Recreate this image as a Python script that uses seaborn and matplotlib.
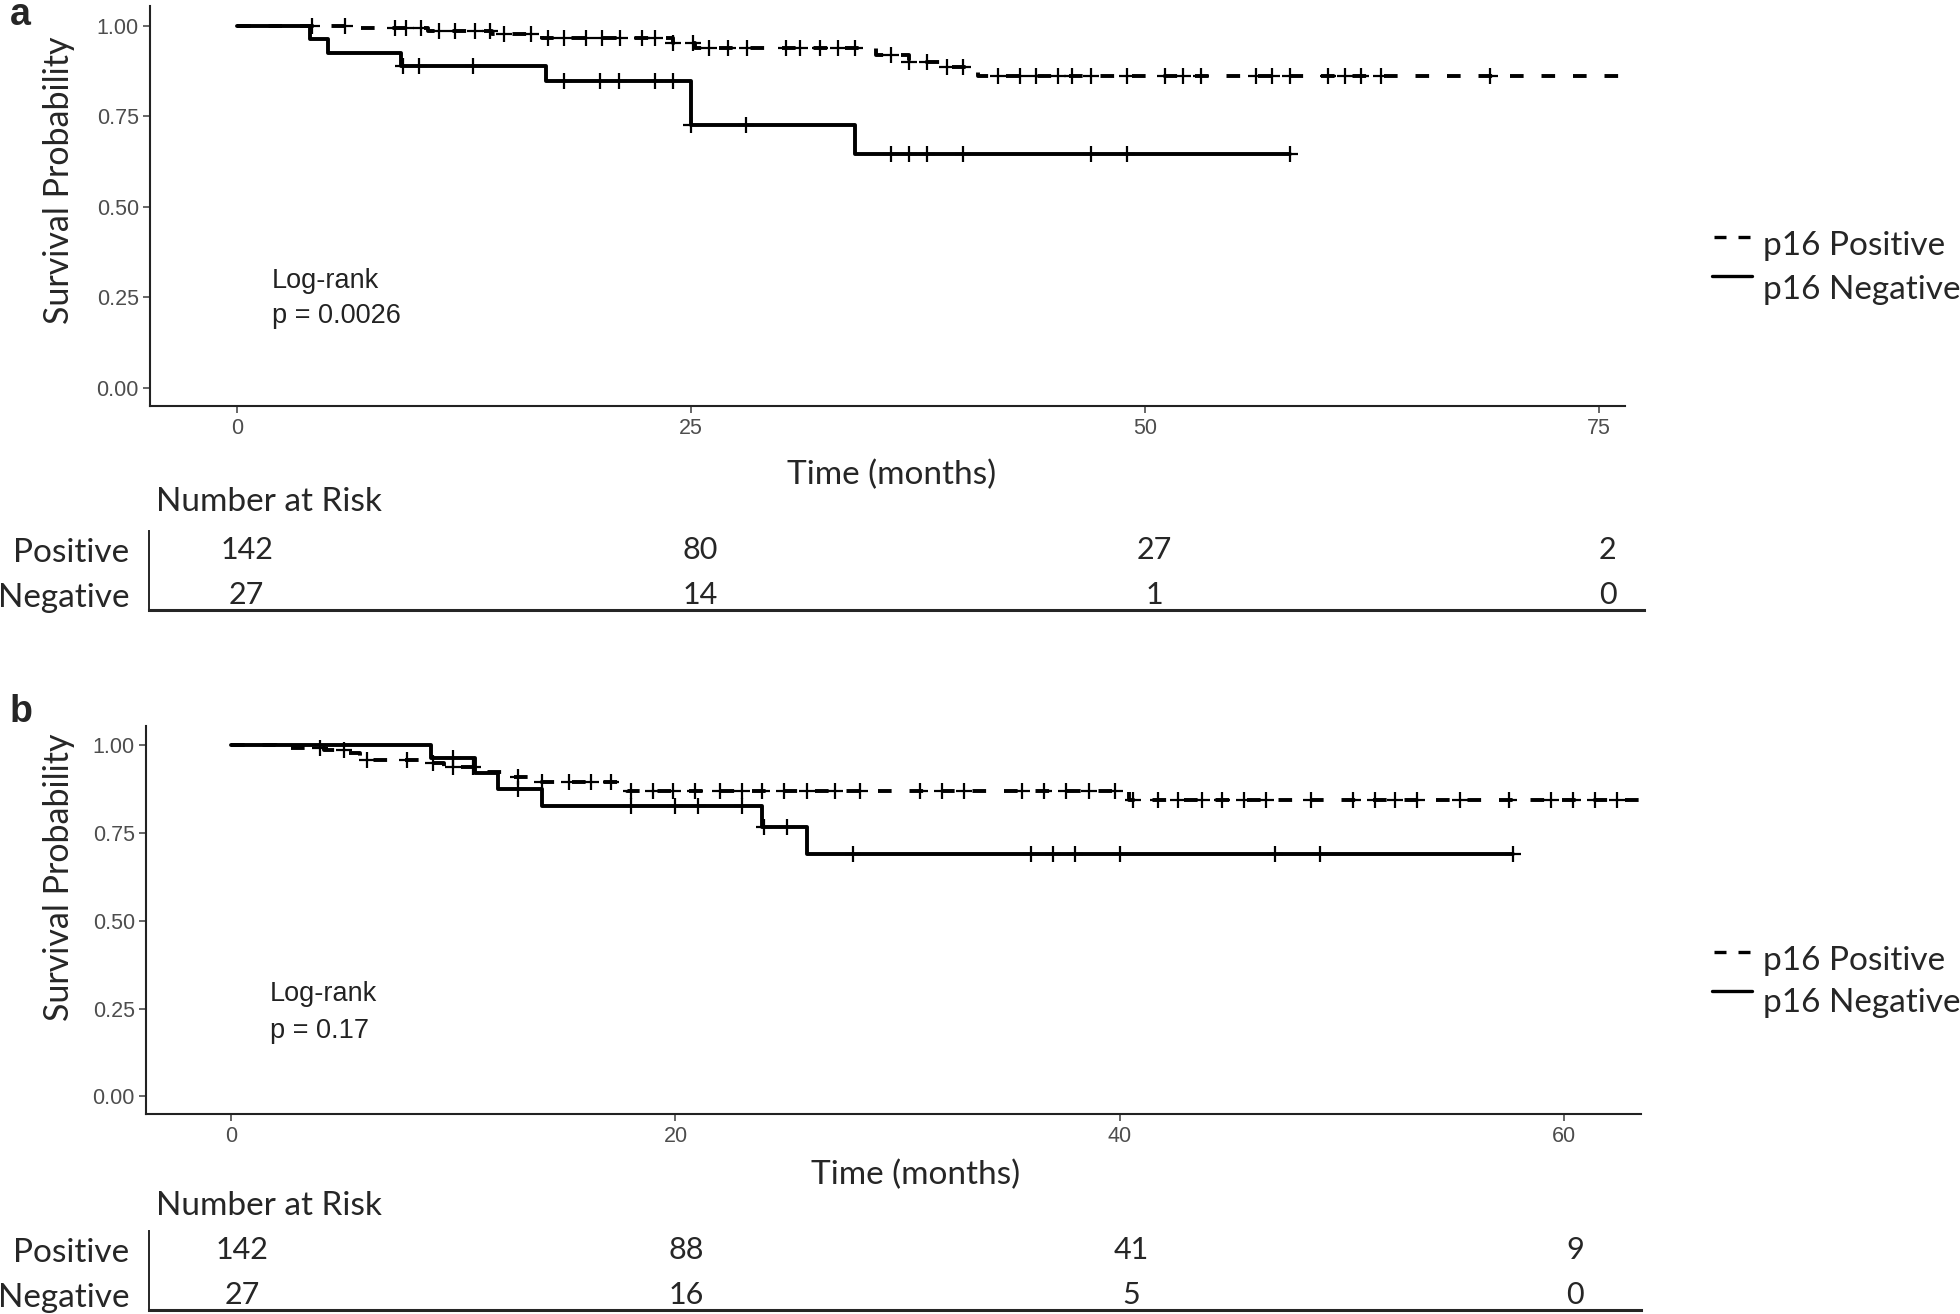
import numpy as np
import pandas as pd
import matplotlib
matplotlib.use("Agg")
import matplotlib.pyplot as plt
from matplotlib.lines import Line2D
import seaborn as sns

# ---- panel a: step curves ----
a_neg_times = [0, 4, 5, 9, 17, 25, 34]
a_neg_surv = [1.0, 0.963, 0.926, 0.889, 0.848, 0.727, 0.646]
a_neg_end = 58
a_neg_censor = [9.1, 10, 13, 18, 20, 21, 23, 24, 25, 28, 36, 37, 38, 40, 47, 49, 58]

a_pos_times = [0, 6.2, 10.5, 14.0, 16.8, 24.0, 25.2, 35.2, 37.0, 38.8, 40.8]
a_pos_surv = [1.0, 0.993, 0.986, 0.977, 0.967, 0.952, 0.938, 0.921, 0.900, 0.886, 0.861]
a_pos_end = 77
a_pos_censor = [4.1, 5.9, 8.7, 9.3, 10.1, 11.1, 12.0, 13.1, 13.9, 14.7, 16.2, 17.1,
                18.0, 19.2, 20.1, 21.1, 22.3, 23.0, 24.0, 25.1, 26.0, 27.0, 28.1,
                30.2, 31.0, 32.1, 33.1, 34.0, 36.0, 37.0, 38.0, 39.1, 40.0, 41.9,
                43.1, 44.0, 45.2, 46.0, 47.0, 49.0, 51.1, 52.1, 53.1, 56.1, 57.0,
                58.0, 60.1, 61.0, 61.9, 63.0, 69.0]

a_risk_times = [0, 25, 50, 75]
a_risk_pos = [142, 80, 27, 2]
a_risk_neg = [27, 14, 1, 0]
a_ticks = [0, 25, 50, 75]
a_pvalue = "p = 0.0026"

# ---- panel b ----
b_neg_times = [0, 9, 11, 12, 14, 23.9, 25.9]
b_neg_surv = [1.0, 0.963, 0.921, 0.875, 0.827, 0.766, 0.690]
b_neg_end = 57.7
b_neg_censor = [10.0, 12.9, 18.0, 20.0, 21.0, 23.0, 24.0, 25.0, 28.0, 36.0, 37.0,
                38.0, 40.0, 47.0, 49.0, 57.7]

b_pos_times = [0, 2.0, 4.2, 5.2, 5.8, 8.6, 9.6, 11.0, 12.5, 13.9, 17.8, 40.4]
b_pos_surv = [1.0, 0.993, 0.986, 0.978, 0.958, 0.950, 0.938, 0.925, 0.910, 0.896, 0.869, 0.845]
b_pos_end = 64
b_pos_censor = [4.0, 5.1, 6.1, 7.9, 9.1, 10.0, 10.9, 12.9, 14.0, 15.2, 16.2, 17.1,
                18.0, 19.0, 19.9, 20.9, 22.0, 23.0, 23.9, 24.9, 25.9, 27.2, 28.3,
                31.0, 32.0, 33.0, 35.6, 36.6, 37.6, 38.6, 39.8, 40.6, 41.7, 42.6,
                43.7, 44.6, 45.6, 46.6, 48.6, 50.5, 51.5, 52.4, 53.4, 55.3, 57.5,
                59.4, 60.4, 61.4, 62.4]

b_risk_times = [0, 20, 40, 60]
b_risk_pos = [142, 88, 41, 9]
b_risk_neg = [27, 16, 5, 0]
b_ticks = [0, 20, 40, 60]
b_pvalue = "p = 0.17"

POS = "p16 Positive"
NEG = "p16 Negative"

W, H = 1960, 1314
sns.set_style("ticks")
plt.rcParams["font.family"] = ["Liberation Sans", "DejaVu Sans"]
CAL = ["Lato", "DejaVu Sans"]
TICK_GREY = "#4D4D4D"

fig = plt.figure(figsize=(W / 100, H / 100), dpi=100)


def px_axes(left, top, right, bottom):
    return fig.add_axes([left / W, 1 - bottom / H, (right - left) / W, (bottom - top) / H])


def km_frame(times, surv, end, label):
    return pd.DataFrame({"time": list(times) + [end],
                         "surv": list(surv) + [surv[-1]],
                         "group": label})


def censor_frame(times, surv, censor, label):
    idx = np.searchsorted(times, censor, side="right") - 1
    return pd.DataFrame({"time": censor, "surv": np.asarray(surv)[idx], "group": label})


def draw_curves(ax, pos, neg, xlim, ticks, pvalue, logrank_xy):
    curves = pd.concat([km_frame(*pos[:3], POS), km_frame(*neg[:3], NEG)], ignore_index=True)
    cens = pd.concat([censor_frame(pos[0], pos[1], pos[3], POS),
                      censor_frame(neg[0], neg[1], neg[3], NEG)], ignore_index=True)
    sns.lineplot(data=curves, x="time", y="surv", hue="group", style="group",
                 palette={POS: "black", NEG: "black"},
                 dashes={POS: (3.5, 4.6), NEG: ""},
                 drawstyle="steps-post", estimator=None, sort=False,
                 linewidth=2.8, legend=False, ax=ax)
    sns.scatterplot(data=cens, x="time", y="surv", marker="+", color="black",
                    s=120, linewidth=1.6, legend=False, ax=ax, zorder=3)
    ax.set_xlim(*xlim)
    ax.set_ylim(-0.05, 1.055)
    ax.set_xticks(ticks)
    ax.set_yticks([0, 0.25, 0.5, 0.75, 1.0])
    ax.set_yticklabels(["0.00", "0.25", "0.50", "0.75", "1.00"])
    ax.tick_params(axis="both", labelsize=15.5, colors=TICK_GREY, length=5, width=1.2,
                   pad=4)
    ax.tick_params(axis="y", pad=3)
    for lab in ax.get_xticklabels() + ax.get_yticklabels():
        lab.set_color(TICK_GREY)
    sns.despine(ax=ax)
    for sp in ("left", "bottom"):
        ax.spines[sp].set_linewidth(1.5)
        ax.spines[sp].set_color("#222222")
    ax.set_xlabel("")
    ax.set_ylabel("")
    ax.text(logrank_xy[0], logrank_xy[1], "Log-rank", fontsize=19.5, color="#222222",
            va="center", ha="left")
    ax.text(logrank_xy[0], logrank_xy[2], pvalue, fontsize=19.5, color="#222222",
            va="center", ha="left")


def draw_table(ax, xlim, times, pos_counts, neg_counts):
    ax.set_xlim(*xlim)
    ax.set_ylim(0, 1)
    for t, p, n in zip(times, pos_counts, neg_counts):
        ax.text(t + 0.5, 0.76, str(p), family=CAL, fontsize=22, ha="center", va="center")
        ax.text(t + 0.5, 0.19, str(n), family=CAL, fontsize=22, ha="center", va="center")
    ax.set_xticks([])
    ax.set_yticks([0.76, 0.19])
    ax.set_yticklabels(["Positive", "Negative"], family=CAL, fontsize=24)
    ax.tick_params(axis="y", length=0, pad=14)
    sns.despine(ax=ax)
    ax.spines["left"].set_linewidth(1.4)
    ax.spines["bottom"].set_linewidth(2.2)
    ax.patch.set_alpha(0)


def draw_legend(y_dash, y_solid, y_pos_text, y_neg_text):
    fig.add_artist(Line2D([1714 / W, 1752 / W], [1 - y_dash / H] * 2, color="black",
                          lw=2.4, ls=(0, (3.6, 3.6)), transform=fig.transFigure))
    fig.add_artist(Line2D([1712 / W, 1752 / W], [1 - y_solid / H] * 2, color="black",
                          lw=2.4, transform=fig.transFigure))
    fig.text(1763 / W, 1 - y_pos_text / H, POS, family=CAL, fontsize=24, va="center")
    fig.text(1763 / W, 1 - y_neg_text / H, NEG, family=CAL, fontsize=24, va="center")


# ---------- panel a ----------
ax_a = px_axes(150, 6, 1625, 406)
draw_curves(ax_a,
            (a_pos_times, a_pos_surv, a_pos_end, a_pos_censor),
            (a_neg_times, a_neg_surv, a_neg_end, a_neg_censor),
            (-4.82, 76.45), a_ticks, a_pvalue, (1.9, 0.295, 0.198))
fig.text(892 / W, 1 - 475 / H, "Time (months)", family=CAL, fontsize=24,
         ha="center", va="center")
fig.text(59 / W, 1 - 180 / H, "Survival Probability", family=CAL, fontsize=24.5,
         rotation=90, ha="center", va="center")
fig.text(156 / W, 1 - 502 / H, "Number at Risk", family=CAL, fontsize=24,
         ha="left", va="center")
tab_a = px_axes(149, 531, 1644, 610)
draw_table(tab_a, (-4.88, 77.5), a_risk_times, a_risk_pos, a_risk_neg)
draw_legend(237, 276, 246, 290)
fig.text(10 / W, 1 - 25 / H, "a", fontsize=27, fontweight="bold", va="baseline")

# ---------- panel b ----------
ax_b = px_axes(146, 726, 1641, 1114)
draw_curves(ax_b,
            (b_pos_times, b_pos_surv, b_pos_end, b_pos_censor),
            (b_neg_times, b_neg_surv, b_neg_end, b_neg_censor),
            (-3.83, 63.46), b_ticks, b_pvalue, (1.76, 0.292, 0.187))
fig.text(916 / W, 1 - 1175 / H, "Time (months)", family=CAL, fontsize=24,
         ha="center", va="center")
fig.text(59 / W, 1 - 877 / H, "Survival Probability", family=CAL, fontsize=24.5,
         rotation=90, ha="center", va="center")
fig.text(156 / W, 1 - 1206 / H, "Number at Risk", family=CAL, fontsize=24,
         ha="left", va="center")
tab_b = px_axes(149, 1231, 1641, 1310)
draw_table(tab_b, (-3.69, 63.46), b_risk_times, b_risk_pos, b_risk_neg)
draw_legend(952, 991, 961, 1003)
fig.text(10 / W, 1 - 722 / H, "b", fontsize=27, fontweight="bold", va="baseline")

fig.savefig("out.png", dpi=100, facecolor="white")
